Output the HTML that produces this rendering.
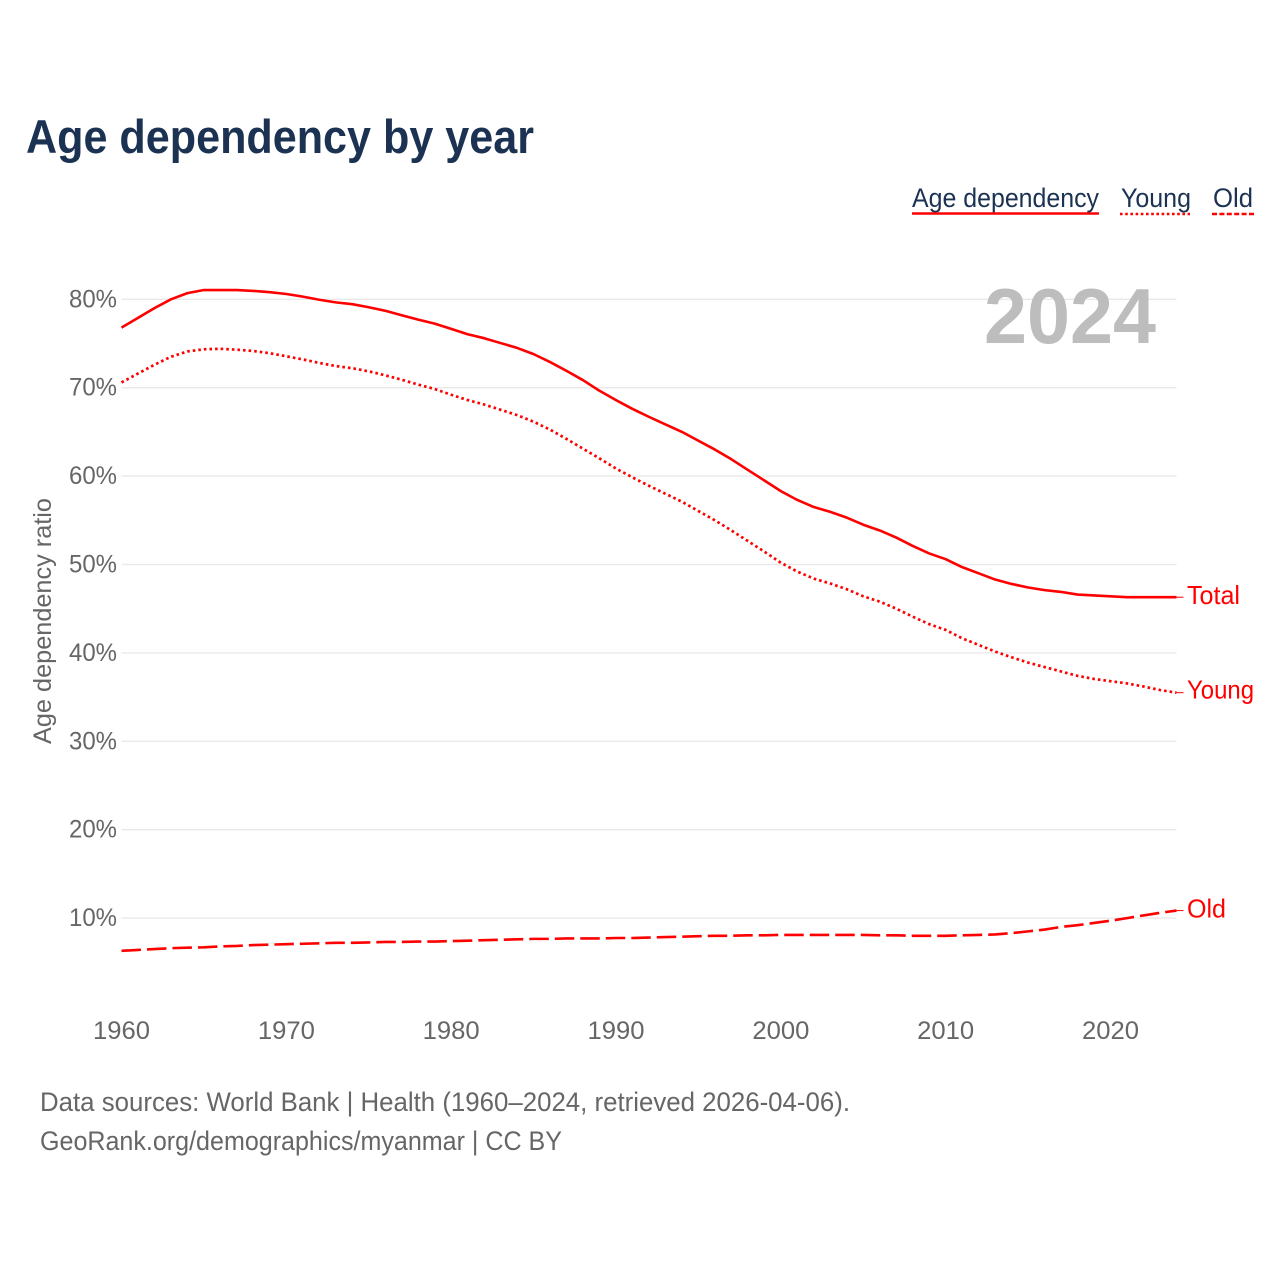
<!DOCTYPE html>
<html lang="en">
<head>
<meta charset="utf-8">
<title>Age dependency by year</title>
<style>
html,body{margin:0;padding:0;background:#fff;}
svg{display:block;font-family:"Liberation Sans",sans-serif;}
</style>
</head>
<body>
<svg id="chart" width="1280" height="1280" viewBox="0 0 1280 1280" xmlns="http://www.w3.org/2000/svg">
  <rect width="1280" height="1280" fill="#fff"/>
  <text x="26" y="153" font-size="47" font-weight="700" fill="#1b3252" textLength="508" lengthAdjust="spacingAndGlyphs">Age dependency by year</text>

  <g font-size="27" fill="#1b3252">
    <g>
      <text x="912" y="207" textLength="187" lengthAdjust="spacingAndGlyphs">Age dependency</text>
      <line x1="912" x2="1099" y1="213.5" y2="213.5" stroke="#f00" stroke-width="2.4"/>
    </g>
    <g>
      <text x="1121" y="207" textLength="70" lengthAdjust="spacingAndGlyphs">Young</text>
      <line x1="1120" x2="1190" y1="214" y2="214" stroke="#f00" stroke-width="2.6" stroke-dasharray="2.6 2.6"/>
    </g>
    <g>
      <text x="1213" y="207" textLength="40" lengthAdjust="spacingAndGlyphs">Old</text>
      <line x1="1212" x2="1254" y1="214" y2="214" stroke="#f00" stroke-width="2.4" stroke-dasharray="5 2.4"/>
    </g>
  </g>

  <g id="grid"></g>
  <g id="yticks"></g>
  <g id="xticks"></g>
  <text transform="translate(51 621) rotate(-90)" text-anchor="middle" font-size="25" fill="#666" textLength="246" lengthAdjust="spacingAndGlyphs">Age dependency ratio</text>
  <text x="984" y="343" font-size="78" font-weight="700" fill="#bdbdbd" textLength="172" lengthAdjust="spacingAndGlyphs">2024</text>
  <g id="series"></g>

  <g font-size="27" fill="#666">
    <text x="40" y="1111" textLength="810" lengthAdjust="spacingAndGlyphs">Data sources: World Bank | Health (1960–2024, retrieved 2026-04-06).</text>
    <text x="40" y="1150" textLength="522" lengthAdjust="spacingAndGlyphs">GeoRank.org/demographics/myanmar | CC BY</text>
  </g>
</svg>
<script>
const years = [1960,1961,1962,1963,1964,1965,1966,1967,1968,1969,1970,1971,1972,1973,1974,1975,1976,1977,1978,1979,1980,1981,1982,1983,1984,1985,1986,1987,1988,1989,1990,1991,1992,1993,1994,1995,1996,1997,1998,1999,2000,2001,2002,2003,2004,2005,2006,2007,2008,2009,2010,2011,2012,2013,2014,2015,2016,2017,2018,2019,2020,2021,2022,2023,2024];
const totalValues = [76.8,77.9,79.0,80.0,80.7,81.05,81.05,81.05,80.95,80.8,
  80.6,80.3,79.95,79.65,79.45,79.1,78.7,78.2,77.7,77.25,
  76.65,76.05,75.6,75.05,74.5,73.8,72.9,71.9,70.85,69.65,
  68.6,67.6,66.7,65.85,65.0,64.0,63.0,61.9,60.7,59.5,
  58.3,57.3,56.5,55.95,55.3,54.5,53.85,53.05,52.1,51.25,
  50.6,49.7,49.0,48.3,47.8,47.4,47.1,46.9,46.6,46.5,
  46.4,46.3,46.3,46.3,46.3];
const youngValues = [70.6,71.6,72.6,73.5,74.1,74.35,74.4,74.3,74.15,73.9,
  73.55,73.2,72.8,72.45,72.2,71.85,71.4,70.9,70.35,69.85,
  69.2,68.6,68.1,67.5,66.9,66.15,65.25,64.2,63.1,62.0,
  60.85,59.85,58.9,58.0,57.1,56.05,55.0,53.85,52.65,51.45,
  50.2,49.2,48.4,47.85,47.2,46.4,45.8,45.0,44.1,43.25,
  42.6,41.65,40.9,40.15,39.5,38.9,38.4,37.9,37.4,37.05,
  36.8,36.55,36.2,35.8,35.5];
const oldValues = [6.3,6.4,6.5,6.6,6.65,6.7,6.8,6.85,6.95,7.0,
  7.05,7.1,7.15,7.2,7.2,7.25,7.3,7.3,7.35,7.35,
  7.4,7.45,7.5,7.55,7.6,7.65,7.65,7.7,7.7,7.7,
  7.75,7.75,7.8,7.85,7.9,7.95,8.0,8.0,8.05,8.05,
  8.1,8.1,8.1,8.1,8.1,8.1,8.05,8.05,8.0,8.0,
  8.0,8.05,8.1,8.15,8.3,8.5,8.7,9.0,9.2,9.45,
  9.7,10.0,10.3,10.6,10.85];
const yTickValues = [10,20,30,40,50,60,70,80];
const yTickLabels = ["10%","20%","30%","40%","50%","60%","70%","80%"];
const xTickValues = [1960,1970,1980,1990,2000,2010,2020];
const xTickLabels = ["1960","1970","1980","1990","2000","2010","2020"];

const NS = "http://www.w3.org/2000/svg";
const xScale = function (year) { return 121.5 + (year - 1960) * 16.484; };
const yScale = function (value) { return 1006.5 - value * 8.84; };
const plotRight = xScale(2024);

function svgEl(tag, parent) {
  const el = document.createElementNS(NS, tag);
  parent.appendChild(el);
  return el;
}

const gridGroup = document.getElementById("grid");
const yGroup = document.getElementById("yticks");
yTickValues.forEach(function (value, i) {
  const line = svgEl("line", gridGroup);
  
  
  line.setAttribute("x1", xScale(1960));
  line.setAttribute("x2", plotRight);
  line.setAttribute("y1", yScale(value));
  line.setAttribute("y2", yScale(value));
  line.setAttribute("stroke", "#e9e9e9");
  line.setAttribute("stroke-width", "1.4");

  const label = svgEl("text", yGroup);
  
  
  label.setAttribute("x", 117);
  label.setAttribute("y", yScale(value) + 8);
  label.setAttribute("text-anchor", "end");
  label.setAttribute("font-size", "25");
  label.setAttribute("fill", "#666");
  label.setAttribute("textLength", "48");
  label.setAttribute("lengthAdjust", "spacingAndGlyphs");
  label.textContent = yTickLabels[i];
});

const xGroup = document.getElementById("xticks");
xTickValues.forEach(function (year, i) {
  const label = svgEl("text", xGroup);
  
  
  label.setAttribute("x", xScale(year));
  label.setAttribute("y", 1039);
  label.setAttribute("text-anchor", "middle");
  label.setAttribute("font-size", "25");
  label.setAttribute("fill", "#666");
  label.setAttribute("textLength", "57");
  label.setAttribute("lengthAdjust", "spacingAndGlyphs");
  label.textContent = xTickLabels[i];
});

const seriesGroup = document.getElementById("series");
function drawSeries(key, values, labelText, dash, labelWidth, labelOffset, strokeWidth) {
  const d = values.map(function (value, i) {
    return (i ? "L" : "M") + xScale(years[i]).toFixed(2) + " " + yScale(value).toFixed(2);
  }).join("");
  const path = svgEl("path", seriesGroup);
  
  
  path.setAttribute("d", d);
  path.setAttribute("fill", "none");
  path.setAttribute("stroke", "#f00");
  path.setAttribute("stroke-width", strokeWidth);
  path.setAttribute("stroke-linejoin", "round");
  if (dash) path.setAttribute("stroke-dasharray", dash);

  const lastY = yScale(values[values.length - 1]);
  const tick = svgEl("line", seriesGroup);
  
  
  tick.setAttribute("x1", plotRight);
  tick.setAttribute("x2", plotRight + 7);
  tick.setAttribute("y1", lastY);
  tick.setAttribute("y2", lastY);
  tick.setAttribute("stroke", "#f00");
  tick.setAttribute("stroke-width", "1");

  const label = svgEl("text", seriesGroup);
  
  
  label.setAttribute("x", 1187);
  label.setAttribute("y", lastY + labelOffset);
  label.setAttribute("font-size", "26");
  label.setAttribute("fill", "#f00");
  label.setAttribute("textLength", labelWidth);
  label.setAttribute("lengthAdjust", "spacingAndGlyphs");
  label.textContent = labelText;
}
drawSeries("total", totalValues, "Total", "", 53, 7, 2.6);
drawSeries("young", youngValues, "Young", "2.6 3", 67, 6, 2.7);
drawSeries("old", oldValues, "Old", "19.5 6", 39, 7, 2.6);
</script>
</body>
</html>
